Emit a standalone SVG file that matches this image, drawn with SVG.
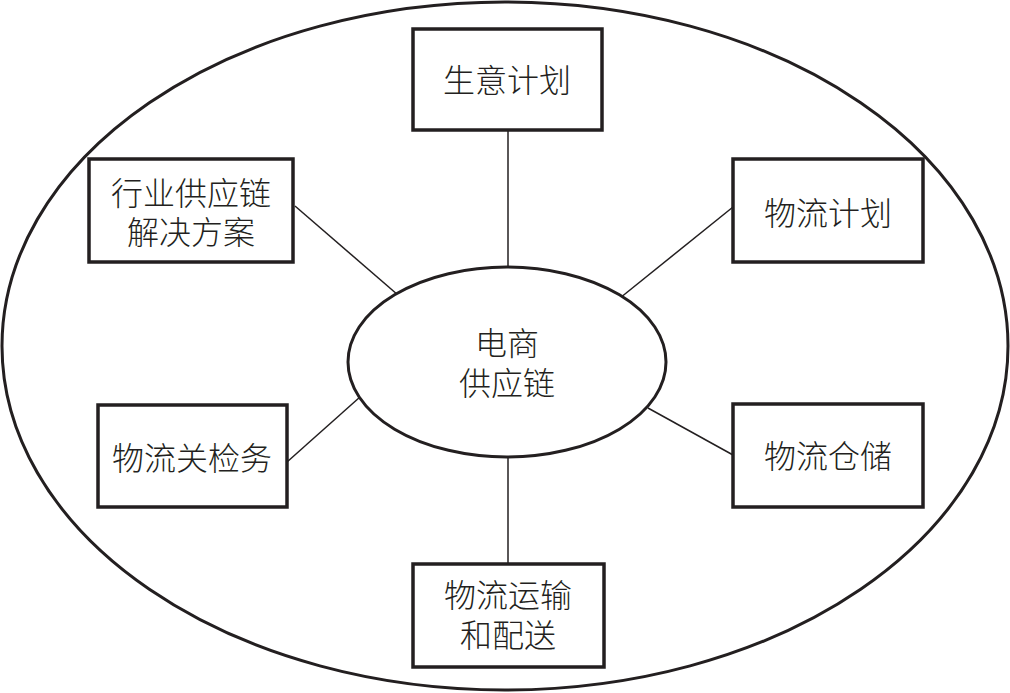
<svg xmlns="http://www.w3.org/2000/svg" width="1010" height="693" viewBox="0 0 1010 693">
<style>
.box{fill:#fff;stroke:#231f20;stroke-width:3.5}
.ell{fill:#fff;stroke:#231f20;stroke-width:3}
.con{stroke:#231f20;stroke-width:1.5;fill:none}
text{font-family:"Noto Sans CJK SC","Noto Sans",sans-serif;font-size:32px;font-weight:300;fill:#231f20;text-anchor:middle}
</style>
<rect width="1010" height="693" fill="#fff"/>
<ellipse id="outer" class="ell" cx="505" cy="346" rx="503" ry="344"/>
<g id="connectors">
<line class="con" x1="508" y1="130" x2="508" y2="268"/>
<line class="con" x1="295" y1="206" x2="398" y2="295"/>
<line class="con" x1="733" y1="207" x2="620" y2="298"/>
<line class="con" x1="287" y1="462" x2="360" y2="397"/>
<line class="con" x1="648" y1="408" x2="733" y2="455"/>
<line class="con" x1="508" y1="457" x2="508" y2="564"/>
</g>
<g id="center">
<ellipse class="ell" cx="507" cy="362" rx="159" ry="95"/>
<text x="507" y="355">电商</text>
<text x="507" y="395">供应链</text>
</g>
<g id="n-top">
<rect class="box" x="413" y="29" width="189" height="101"/>
<text x="507" y="92">生意计划</text>
</g>
<g id="n-ul">
<rect class="box" x="89" y="159" width="204" height="103"/>
<text x="191" y="205">行业供应链</text>
<text x="191" y="244">解决方案</text>
</g>
<g id="n-ur">
<rect class="box" x="733" y="159" width="190" height="103"/>
<text x="828" y="225">物流计划</text>
</g>
<g id="n-ll">
<rect class="box" x="98" y="405" width="189" height="102"/>
<text x="192" y="470">物流关检务</text>
</g>
<g id="n-lr">
<rect class="box" x="733" y="404" width="190" height="103"/>
<text x="828" y="468">物流仓储</text>
</g>
<g id="n-bottom">
<rect class="box" x="413" y="564" width="191" height="103"/>
<text x="508" y="607">物流运输</text>
<text x="508" y="647">和配送</text>
</g>
</svg>
